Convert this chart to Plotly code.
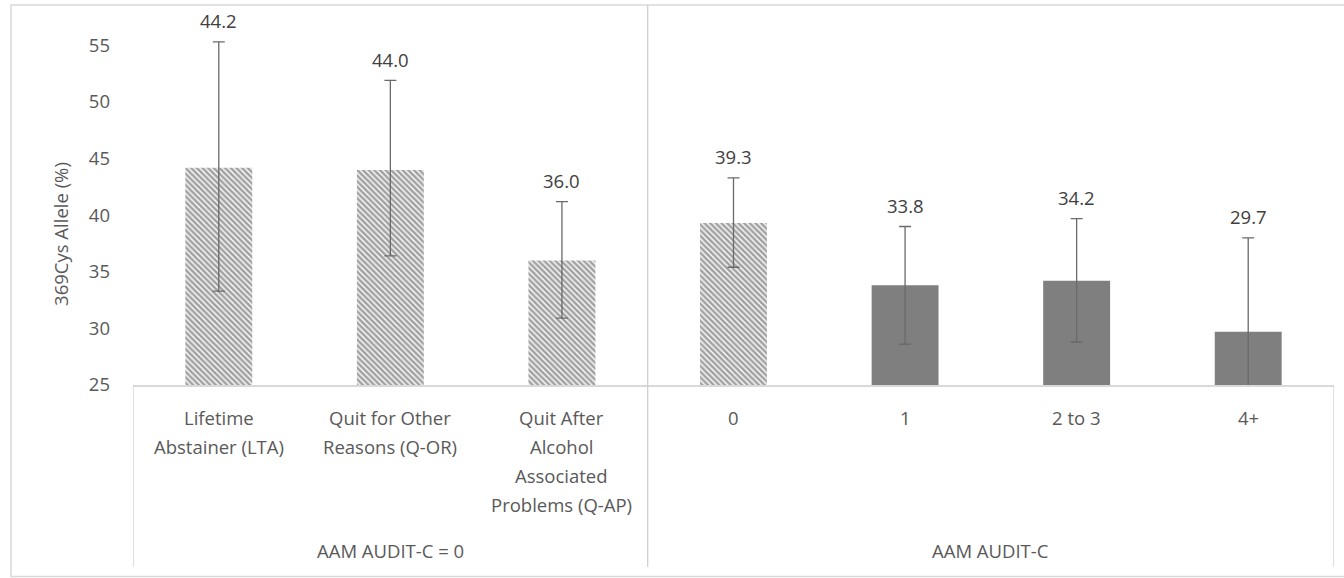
import plotly.graph_objects as go

# ---- data ----
categories = ["Lifetime<br>Abstainer (LTA)", "Quit for Other<br>Reasons (Q-OR)",
              "Quit After<br>Alcohol<br>Associated<br>Problems (Q-AP)",
              "0", "1", "2 to 3", "4+"]
groups = ["AAM AUDIT-C = 0", "AAM AUDIT-C"]
group_sizes = [3, 4]
values = [44.2, 44.0, 36.0, 39.3, 33.8, 34.2, 29.7]
err_plus = [11.1, 7.9, 5.2, 4.0, 5.2, 5.5, 8.3]
err_minus = [10.9, 7.6, 5.1, 3.9, 5.2, 5.4, 8.3]
hatched = [True, True, True, True, False, False, False]
y_ticks = [25, 30, 35, 40, 45, 50, 55]
y_title = "369Cys Allele (%)"

FONT = "Open Sans"
TXT = "#595959"
LBL = "#404040"
LINE = "#d9d9d9"
FS = 18.5

x = list(range(len(values)))
hi = [i for i in x if hatched[i]]
so = [i for i in x if not hatched[i]]

fig = go.Figure()
err_style = dict(color="#6a6a6a", thickness=1.3, width=6)

fig.add_trace(go.Bar(
    x=hi, y=[values[i] for i in hi], width=0.39,
    marker=dict(color="white", line=dict(width=0),
                pattern=dict(shape="\\", fgcolor="#454545", bgcolor="white",
                             size=4, solidity=0.65, fillmode="overlay")),
    error_y=dict(type="data", symmetric=False,
                 array=[err_plus[i] for i in hi],
                 arrayminus=[err_minus[i] for i in hi], **err_style),
    showlegend=False, hoverinfo="skip"))
fig.add_trace(go.Bar(
    x=so, y=[values[i] for i in so], width=0.39,
    marker=dict(color="#7f7f7f", line=dict(width=0)),
    error_y=dict(type="data", symmetric=False,
                 array=[err_plus[i] for i in so],
                 arrayminus=[err_minus[i] for i in so], **err_style),
    showlegend=False, hoverinfo="skip"))

annotations = []
# data labels above error bars
for i in x:
    annotations.append(dict(x=i, y=values[i] + err_plus[i], xref="x", yref="y",
                            text=f"{values[i]:.1f}", showarrow=False, yshift=21,
                            yanchor="middle",
                            font=dict(family=FONT, size=FS, color=LBL)))
# category labels, one annotation per line
for i, lab in enumerate(categories):
    for k, line in enumerate(lab.split("<br>")):
        annotations.append(dict(x=i, y=0, xref="x", yref="paper", text=line,
                                showarrow=False, yanchor="middle",
                                yshift=-(32 + 29 * k),
                                font=dict(family=FONT, size=FS, color=TXT)))
# group labels
start = 0
for g, n in zip(groups, group_sizes):
    annotations.append(dict(x=start - 0.5 + n / 2, y=0, xref="x", yref="paper",
                            text=g, showarrow=False, yanchor="middle", yshift=-165,
                            font=dict(family=FONT, size=FS, color=TXT)))
    start += n
# y axis title
annotations.append(dict(x=-0.061, y=0.40, xref="paper", yref="paper", text=y_title,
                        textangle=-90, showarrow=False, xanchor="center", yanchor="middle",
                        font=dict(family=FONT, size=FS, color=TXT)))

shapes = []
bottom = -0.483
# outer chart frame
shapes.append(dict(type="rect", xref="paper", yref="paper", x0=-0.1016, x1=1.05,
                   y0=-0.5077, y1=1.008, line=dict(color="#d9d9d9", width=1.5)))
# category-axis dividers
start = 0
bounds = [-0.5]
for n in group_sizes:
    start += n
    bounds.append(start - 0.5)
for j, b in enumerate(bounds):
    top = 1.008 if 0 < j < len(bounds) - 1 else 0
    shapes.append(dict(type="line", xref="x", yref="paper", x0=b, x1=b, y0=bottom, y1=top,
                       line=dict(color="#cfcfcf", width=1.3)))

fig.update_layout(
    width=1344, height=578,
    margin=dict(l=133, r=10, t=8, b=193),
    paper_bgcolor="white", plot_bgcolor="white",
    barmode="overlay",
    xaxis=dict(range=[-0.5, 6.5], showticklabels=False, showgrid=False, zeroline=False,
               showline=True, linecolor=LINE, linewidth=1.5, ticks=""),
    yaxis=dict(range=[25, 58.3], tickvals=y_ticks, showgrid=False, zeroline=False,
               showline=False, ticks="", ticklabelstandoff=22,
               tickfont=dict(family=FONT, size=FS, color=TXT)),
    annotations=annotations, shapes=shapes,
    font=dict(family=FONT),
)

fig.write_html("out.html", config={"displayModeBar": False},
               post_script="document.body.style.margin='0';document.body.style.overflow='hidden';")
